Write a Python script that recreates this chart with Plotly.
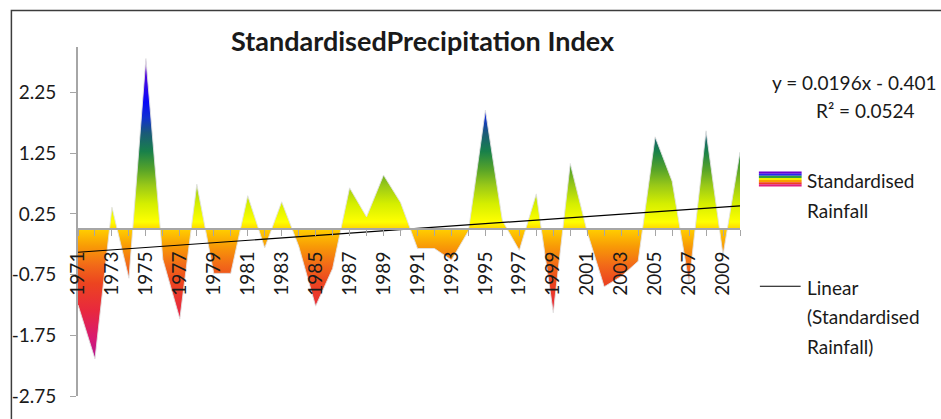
import plotly.graph_objects as go

# ---------------- data ----------------
years = list(range(1971, 2011))
spi = [-1.25, -2.14, 0.36, -0.81, 2.81, -0.50, -1.48, 0.74, -0.73, -0.73,
       0.55, -0.31, 0.45, -0.28, -1.27, -0.65, 0.68, 0.20, 0.89, 0.44,
       -0.32, -0.32, -0.51, -0.03, 1.96, 0.14, -0.35, 0.58, -1.38, 1.08,
       -0.05, -0.95, -0.78, -0.53, 1.52, 0.79, -0.89, 1.62, -0.43, 1.27]
trend_slope = 0.0196
trend_intercept = -0.401
r_squared = 0.0524
y_tick_vals = [-2.75, -1.75, -0.75, 0.25, 1.25, 2.25]
y_tick_text = ["-2.75", "-1.75", "-0.75", "0.25", "1.25", "2.25"]
x_tick_text = [str(y) if (y - 1971) % 2 == 0 else "" for y in years]

trend = [trend_slope * (i + 1) + trend_intercept for i in range(len(years))]

# ---------------- layout geometry ----------------
W, H = 941, 419
L, R, T, B = 74, 740, 47, 400
YMIN, YMAX = -2.75, 3.0


def px(x):
    return (x - L) / (R - L)


def py(y):
    return (B - y) / (B - T)


FONT = "Lato"
TXT = "#1a1a1a"
AXC = "#a6a6a6"

g0, g1 = -2.2, 2.85
stops = [(-2.2, "#a3109e"), (-1.75, "#d81a72"), (-1.3, "#e8283e"),
         (-0.85, "#ec4420"), (-0.55, "#f26a18"), (-0.25, "#f89a06"),
         (0.0, "#ffc800"), (0.15, "#ffff00"), (0.45, "#d4ee00"),
         (0.75, "#98c818"), (1.0, "#58a428"), (1.3, "#18804a"),
         (1.6, "#1a5a78"), (1.85, "#1030d0"), (2.1, "#0808f8"),
         (2.5, "#4a08e0"), (2.85, "#8a10c0")]
cs = [[(v - g0) / (g1 - g0), c] for v, c in stops]

fig = go.Figure()
fig.add_trace(go.Scatter(
    x=years, y=spi, mode="lines",
    line=dict(color="rgba(225,225,225,0.9)", width=1),
    fill="tozeroy",
    fillgradient=dict(type="vertical", colorscale=cs, start=g0, stop=g1),
    showlegend=False, hoverinfo="x+y"))
fig.add_trace(go.Scatter(
    x=years, y=trend, mode="lines",
    line=dict(color="#000000", width=1.2),
    showlegend=False))

shapes = []
# chart border (extends past the right/bottom of the page)
shapes.append(dict(type="rect", xref="paper", yref="paper",
                   x0=px(7), x1=px(960), y0=py(440), y1=py(10),
                   line=dict(color="#3c3c3c", width=1.5), layer="below"))
# legend swatch: rainbow stripes
stripe_cols = ["#6a00d0", "#2828f0", "#30a040", "#f4f000", "#f8a000",
               "#f04020", "#e02080"]
top, bot = 173, 188
h = (bot - top) / len(stripe_cols)
for i, c in enumerate(stripe_cols):
    shapes.append(dict(type="rect", xref="paper", yref="paper",
                       x0=px(759), x1=px(802),
                       y0=py(top + (i + 1) * h), y1=py(top + i * h),
                       fillcolor=c, line=dict(width=0)))
# legend swatch: linear trend
shapes.append(dict(type="line", xref="paper", yref="paper",
                   x0=px(760), x1=px(801), y0=py(289), y1=py(289),
                   line=dict(color="#000000", width=1)))

ann = []


def txt(x, y, s, anchor="left", size=19, bold=False):
    ann.append(dict(xref="paper", yref="paper", x=px(x), y=py(y),
                    text=("<b>%s</b>" % s) if bold else s, showarrow=False,
                    xanchor=anchor, yanchor="middle",
                    font=dict(family=FONT, size=size, color=TXT)))


txt(421, 40, "StandardisedPrecipitation Index", "center", 27, True)
txt(939, 83, "y = %.4fx - %.3f" % (trend_slope, -trend_intercept), "right", 19)
txt(866, 111, "R² = %.4f" % r_squared, "center", 19)
txt(805, 182, "Standardised")
txt(805, 212, "Rainfall")
txt(805, 290, "Linear")
txt(805, 320, "(Standardised")
txt(805, 350, "Rainfall)")

fig.update_layout(
    width=W, height=H,
    margin=dict(l=L, r=W - R, t=T, b=H - B, pad=0),
    paper_bgcolor="white", plot_bgcolor="white",
    shapes=shapes, annotations=ann,
    xaxis=dict(range=[1971, 2010], tickvals=years, ticktext=x_tick_text,
               tickangle=-90, ticks="outside", ticklen=6, tickcolor=AXC,
               tickwidth=1.2, showline=True, linecolor=AXC, linewidth=1.8,
               showgrid=False, zeroline=False, anchor="free",
               position=(0 - YMIN) / (YMAX - YMIN),
               ticklabelstandoff=8,
               tickfont=dict(family=FONT, size=19, color=TXT)),
    yaxis=dict(range=[YMIN, YMAX], tickvals=y_tick_vals, ticktext=y_tick_text,
               ticks="outside", ticklen=6, tickcolor=AXC, tickwidth=1.2,
               showline=True, linecolor=AXC, linewidth=1.8,
               showgrid=False, zeroline=False, ticklabelstandoff=10,
               tickfont=dict(family=FONT, size=19, color=TXT)),
)

fig.write_html("out.html",
               config={"displayModeBar": False},
               post_script="document.body.style.margin='0';"
                           "document.body.style.padding='0';")
